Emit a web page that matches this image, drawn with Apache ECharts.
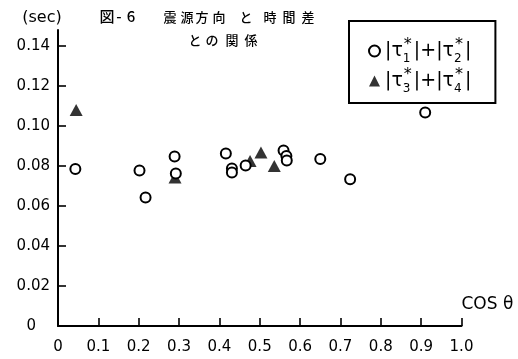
<!DOCTYPE html>
<html>
<head>
<meta charset="utf-8">
<script src="https://cdn.jsdelivr.net/npm/echarts@6/dist/echarts.min.js"></script>
<style>
  html, body { margin: 0; padding: 0; background: #fff; }
  #chart { width: 518px; height: 359px; }
</style>
</head>
<body>
<div id="chart"></div>
<script>
// cos(theta) of the source direction vs. summed time differences (sec)
const xTickValues = [0, 0.1, 0.2, 0.3, 0.4, 0.5, 0.6, 0.7, 0.8, 0.9, 1.0];
const yTickValues = [0, 0.02, 0.04, 0.06, 0.08, 0.10, 0.12, 0.14];

const seriesNames = ['|τ1*|+|τ2*|', '|τ3*|+|τ4*|'];

// |τ1*| + |τ2*|
const tau12 = [
  [0.043, 0.0785],
  [0.202, 0.0777],
  [0.217, 0.0643],
  [0.289, 0.0847],
  [0.292, 0.0762],
  [0.416, 0.0863],
  [0.431, 0.0788],
  [0.431, 0.0767],
  [0.465, 0.0802],
  [0.559, 0.0877],
  [0.566, 0.0850],
  [0.567, 0.0827],
  [0.650, 0.0835],
  [0.724, 0.0734],
  [0.910, 0.1067]
];

// |τ3*| + |τ4*|
const tau34 = [
  [0.045, 0.1080],
  [0.290, 0.0742],
  [0.476, 0.0825],
  [0.503, 0.0867],
  [0.536, 0.0800]
];

const INK = '#000';
const FONT = 'DejaVu Sans';
const CJK = 'Noto Sans CJK JP';

// Title, set glyph by glyph with generous tracking
function glyphRow(chars, xs, y, size) {
  return chars.map((c, i) => ({
    type: 'text',
    x: xs[i], y: y,
    style: {
      text: c, fill: INK, font: '500 ' + size + 'px "' + CJK + '"',
      align: 'center', verticalAlign: 'middle'
    }
  }));
}

const legendRich = {
  '|τ1*|+|τ2*|': '|τ{s|1}{a|*}|+|τ{s|2}{a|*}|',
  '|τ3*|+|τ4*|': '|τ{s|3}{a|*}|+|τ{s|4}{a|*}|'
};

const chart = echarts.init(document.getElementById('chart'), null, { renderer: 'canvas' });

chart.setOption({
  backgroundColor: '#fff',
  animation: false,
  grid: { left: 58, right: 56.5, top: 30, bottom: 33 },
  xAxis: {
    type: 'value',
    min: 0, max: 1.0, interval: 0.1,
    name: 'COS θ',
    nameLocation: 'end',
    nameGap: 0,
    nameTextStyle: {
      color: INK, fontFamily: FONT, fontSize: 17,
      align: 'left', verticalAlign: 'bottom', padding: [0, 0, 13, 0]
    },
    axisLine: { lineStyle: { color: INK, width: 2 } },
    axisTick: { inside: true, length: 8, lineStyle: { color: INK, width: 1.6 } },
    axisLabel: {
      color: INK, fontFamily: FONT, fontSize: 15, margin: 14,
      formatter: v => (v === 0 ? '0' : v.toFixed(1))
    },
    splitLine: { show: false }
  },
  yAxis: {
    type: 'value',
    min: 0, max: 0.148,
    name: '(sec)',
    nameLocation: 'end',
    nameGap: 4,
    nameTextStyle: {
      color: INK, fontFamily: FONT, fontSize: 16, padding: [0, 32, 0, 0]
    },
    axisLine: { lineStyle: { color: INK, width: 2 } },
    axisTick: {
      inside: true, length: 8, customValues: yTickValues,
      lineStyle: { color: INK, width: 1.6 }
    },
    axisLabel: {
      color: INK, fontFamily: FONT, fontSize: 15, margin: 8,
      customValues: yTickValues,
      formatter: v => (v === 0 ? '{z|0}' : v.toFixed(2)),
      rich: { z: { fontFamily: FONT, fontSize: 15, color: INK, padding: [0, 14, 0, 0] } }
    },
    splitLine: { show: false }
  },
  legend: {
    orient: 'vertical',
    left: 349, top: 21,
    backgroundColor: '#fff',
    borderColor: INK, borderWidth: 2, borderRadius: 0,
    padding: [16, 24, 8, 19],
    itemGap: 2,
    itemWidth: 11, itemHeight: 11,
    data: [
      { name: seriesNames[0], icon: 'circle' },
      { name: seriesNames[1], icon: 'triangle' }
    ],
    formatter: name => legendRich[name],
    textStyle: {
      color: INK, fontFamily: FONT, fontSize: 19, lineHeight: 28,
      rich: {
        s: { fontFamily: FONT, fontSize: 12, color: INK, width: 1, verticalAlign: 'bottom', lineHeight: 28 },
        a: { fontFamily: FONT, fontSize: 16, color: INK, width: 10, verticalAlign: 'top', lineHeight: 28 }
      }
    }
  },
  series: [
    {
      name: seriesNames[0],
      type: 'scatter',
      data: tau12,
      symbol: 'circle',
      symbolSize: 10,
      itemStyle: { color: '#fff', borderColor: INK, borderWidth: 2, opacity: 1 },
      z: 3
    },
    {
      name: seriesNames[1],
      type: 'scatter',
      data: tau34,
      symbol: 'triangle',
      symbolSize: [13, 12],
      itemStyle: { color: INK, borderWidth: 0 },
      z: 2
    }
  ],
  graphic: [].concat(
    glyphRow(['図', '-', '6'], [107, 119, 131], 16, 15),
    glyphRow(['震', '源', '方', '向', 'と'], [170, 187, 202, 219, 246], 17, 13),
    glyphRow(['時', '間', '差'], [270, 289, 308], 17, 13),
    glyphRow(['と', 'の', '関', '係'], [195, 212, 232, 251], 40, 13)
  )
});
</script>
</body>
</html>
